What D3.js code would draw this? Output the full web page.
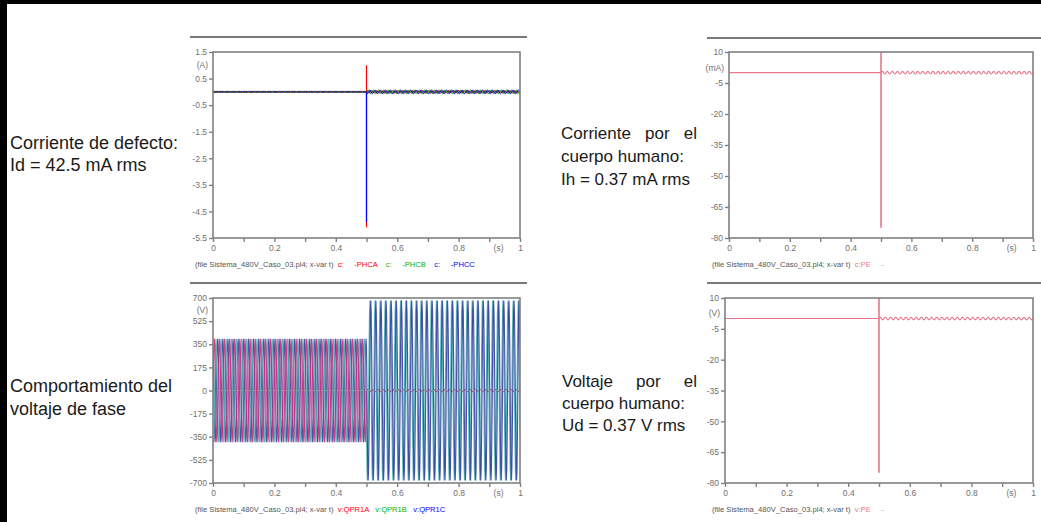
<!DOCTYPE html>
<html>
<head>
<meta charset="utf-8">
<script src="https://cdn.jsdelivr.net/npm/d3@7"></script>
<style>
body { margin: 0; background: #fff; }
svg { display: block; }
</style>
</head>
<body>
<div id="chart-area"></div>
<script>
var W = 1041, H = 522

// time axis (s)
var xTicks = [0, 0.1, 0.2, 0.3, 0.4, 0.5, 0.6, 0.7, 0.8, 0.9, 1]
var xLabels = [0, 0.2, 0.4, 0.6, 0.8, 1]
var faultTime = 0.5
var freq = 60

// one cycle of the waveform, read as 12 samples (30 deg apart)
var cycleShape = [0, 0.5, 0.87, 1, 0.87, 0.5, 0, -0.5, -0.87, -1, -0.87, -0.5]

var fileLabel = "(file Sistema_480V_Caso_03.pl4; x-var t)"
var phaseColors = ["#ff0000", "#00b400", "#0000ff"]
var phaseLineColors = ["#c8287e", "#48b4b0", "#34409e"]

// fault current, A
var iNames = ["-PHCA", "-PHCB", "-PHCC"]
var iTicks = [1.5, 0.5, -0.5, -1.5, -2.5, -3.5, -4.5, -5.5]
var iPreAmp = [0.02, 0.02, 0.02]
var iPostAmp = [0.05, 0.07, 0.07]
var iPrePhase = [0, -120, 120]
var iPostPhase = [90, -30, 210]
var iSpikeTop = [1.0, 0, 0]
var iSpikeBottom = [-5.1, 0, -4.9]

// body current, mA
var ihTicks = [10, -5, -20, -35, -50, -65, -80]
var ihPreAmp = [0]
var ihPostAmp = [0.6]
var ihSpike = [12, -75]

// phase voltages, V
var vNames = ["v:QPR1A", "v:QPR1B", "v:QPR1C"]
var vTicks = [700, 525, 350, 175, 0, -175, -350, -525, -700]
var vPreAmp = [392, 392, 392]
var vPostAmp = [6, 680, 680]
var vPrePhase = [0, -120, 120]
var vPostPhase = [0, -150, 150]

// body voltage, V
var udTicks = [10, -5, -20, -35, -50, -65, -80]
var udPreAmp = [0]
var udPostAmp = [0.6]
var udSpike = [12, -75]

var svg = d3.select("#chart-area").append("svg")
    .attr("width", W)
    .attr("height", H)

svg.append("rect").attr("width", W).attr("height", H).attr("fill", "#fff")

var blur = svg.append("defs").append("filter").attr("id", "soft")
    .attr("x", "-5%").attr("y", "-5%").attr("width", "110%").attr("height", "110%")
blur.append("feGaussianBlur").attr("stdDeviation", 0.5)

// page frame
svg.append("rect").attr("x", 0).attr("y", 0).attr("width", W).attr("height", 4).attr("fill", "#000")
svg.append("rect").attr("x", 0).attr("y", 0).attr("width", 7).attr("height", H).attr("fill", "#000")

function wave(t0, t1, amp, phaseDeg) {
    var n = cycleShape.length
    var step = 1 / (freq * n)
    var off = Math.round(phaseDeg / (360 / n))
    var count = Math.round((t1 - t0) / step)
    var pts = []
    for (var k = 0; k <= count; k++) {
        var idx = (((k + off) % n) + n) % n
        pts.push([t0 + k * step, amp * cycleShape[idx]])
    }
    return pts
}

var font = "Liberation Sans, Arial, sans-serif"
var clipId = 0
function panel(cfg) {
    var g = svg.append("g")
    var x = d3.scaleLinear().domain([0, 1]).range([cfg.left, cfg.right])
    var y = d3.scaleLinear().domain(cfg.yDomain).range([cfg.bottom, cfg.top])

    // separator line above the plot
    g.append("line")
        .attr("x1", cfg.sepX1).attr("x2", cfg.sepX2)
        .attr("y1", cfg.sepY).attr("y2", cfg.sepY)
        .attr("stroke", "#7a7a7a").attr("stroke-width", 2)

    var id = "clip" + (clipId++)
    g.append("clipPath").attr("id", id).append("rect")
        .attr("x", cfg.left).attr("y", cfg.top)
        .attr("width", cfg.right - cfg.left).attr("height", cfg.bottom - cfg.top)
    var plot = g.append("g").attr("clip-path", "url(#" + id + ")").append("g")
    if (cfg.soft) plot.attr("filter", "url(#soft)")

    var line = d3.line().x(function(d) { return x(d[0]) }).y(function(d) { return y(d[1]) })
    var order = cfg.series.slice()
    if (cfg.reverse) order.reverse()

    order.forEach(function(s) {
        plot.append("path")
            .attr("d", line(wave(0, faultTime, s.preAmp, s.prePhase)))
            .attr("fill", "none").attr("stroke", s.color).attr("stroke-width", s.width)
            .attr("stroke-opacity", s.opacity || 1)
    })
    cfg.series.forEach(function(s) {
        plot.append("path")
            .attr("d", line(wave(faultTime, 1, s.postAmp, s.postPhase)))
            .attr("fill", "none").attr("stroke", s.color).attr("stroke-width", s.width)
            .attr("stroke-opacity", s.opacity || 1)
        if (s.spike) {
            plot.append("line")
                .attr("x1", x(faultTime)).attr("x2", x(faultTime))
                .attr("y1", y(s.spike[0])).attr("y2", y(s.spike[1]))
                .attr("stroke", s.color).attr("stroke-width", s.spikeWidth || 1.2)
        }
    })
    if (cfg.zeroLine) {
        plot.append("line")
            .attr("x1", x(0)).attr("x2", x(1))
            .attr("y1", y(0)).attr("y2", y(0))
            .attr("stroke", cfg.zeroColor).attr("stroke-width", cfg.zeroWidth)
            .attr("stroke-dasharray", cfg.zeroDash)
    }

    // frame
    g.append("rect")
        .attr("x", cfg.left).attr("y", cfg.top)
        .attr("width", cfg.right - cfg.left).attr("height", cfg.bottom - cfg.top)
        .attr("fill", "none").attr("stroke", "#808080").attr("stroke-width", 1.6)

    // y axis
    var yAxis = g.append("g")
        .attr("transform", "translate(" + cfg.left + ",0)")
        .call(d3.axisLeft(y).tickValues(cfg.yTicks).tickSize(4).tickPadding(2)
            .tickFormat(function(d) { return String(d) }))
    // x axis
    var xAxis = g.append("g")
        .attr("transform", "translate(0," + cfg.bottom + ")")
        .call(d3.axisBottom(x).tickValues(xTicks).tickSize(4).tickPadding(3)
            .tickFormat(function(d) { return xLabels.indexOf(d) >= 0 ? String(d) : "" }))
    ;[yAxis, xAxis].forEach(function(a) {
        a.select(".domain").remove()
        a.selectAll("line").attr("stroke", "#808080").attr("stroke-width", 1.4)
        a.selectAll("text").attr("fill", "#707070")
            .style("font-family", font).style("font-size", "8.5px")
    })
    g.append("text")
        .attr("x", x(0.93)).attr("y", cfg.bottom + 13)
        .attr("text-anchor", "middle").attr("fill", "#707070")
        .style("font-family", font).style("font-size", "8.5px")
        .text("(s)")
    g.append("text")
        .attr("x", cfg.left - 5).attr("y", (y(cfg.yTicks[0]) + y(cfg.yTicks[1])) / 2 + 3)
        .attr("text-anchor", "end").attr("fill", "#707070")
        .style("font-family", font).style("font-size", "8.5px")
        .text(cfg.unit)

    // legend
    var leg = g.append("text")
        .attr("x", cfg.sepX1 + 5).attr("y", cfg.bottom + 29)
        .style("font-family", font).style("font-size", "7.6px")
        .style("white-space", "pre")
    leg.append("tspan").attr("fill", "#555").text(fileLabel)
    cfg.legend.forEach(function(item) {
        leg.append("tspan").attr("fill", item[1]).text(item[0])
    })
}

var tlSeries = iNames.map(function(n, i) {
    return { color: phaseColors[i], width: 1, preAmp: iPreAmp[i], postAmp: iPostAmp[i],
             prePhase: iPrePhase[i], postPhase: iPostPhase[i], spike: [iSpikeTop[i], iSpikeBottom[i]] }
})
panel({
    left: 213, right: 520, top: 52, bottom: 238,
    sepX1: 190, sepX2: 527, sepY: 37,
    yDomain: [-5.5, 1.5], yTicks: iTicks, unit: "(A)",
    zeroLine: true, zeroColor: "#333", zeroWidth: 1.3, zeroDash: "5,1",
    series: tlSeries,
    legend: [["  c:     ", phaseColors[0]], ["-PHCA  ", phaseColors[0]], ["  c:     ", phaseColors[1]],
             ["-PHCB  ", phaseColors[1]], ["  c:     ", phaseColors[2]], ["-PHCC", phaseColors[2]]]
})

panel({
    left: 729, right: 1033, top: 52, bottom: 238,
    sepX1: 707, sepX2: 1041, sepY: 38,
    yDomain: [-80, 10], yTicks: ihTicks, unit: "(mA)",
    series: [{ color: "#e8788a", width: 1.1, preAmp: ihPreAmp[0], postAmp: ihPostAmp[0],
               prePhase: 0, postPhase: 0, spike: ihSpike, spikeWidth: 1.6 }],
    legend: [["  c:PE     ", "#e8788a"], ["-", "#e8788a"]]
})

var blSeries = vNames.map(function(n, i) {
    return { color: phaseLineColors[i], width: 1.1, opacity: 0.9, preAmp: vPreAmp[i], postAmp: vPostAmp[i],
             prePhase: vPrePhase[i], postPhase: vPostPhase[i] }
})
panel({
    left: 213, right: 520, top: 298, bottom: 483,
    sepX1: 190, sepX2: 527, sepY: 283,
    yDomain: [-700, 700], yTicks: vTicks, unit: "(V)", soft: true, reverse: true,
    zeroLine: true, zeroColor: "#999", zeroWidth: 1, zeroDash: "2,2",
    series: blSeries,
    legend: [["  " + vNames[0] + "   ", phaseColors[0]], [vNames[1] + "   ", phaseColors[1]], [vNames[2], phaseColors[2]]]
})

panel({
    left: 725, right: 1033, top: 298, bottom: 483,
    sepX1: 707, sepX2: 1041, sepY: 283,
    yDomain: [-80, 10], yTicks: udTicks, unit: "(V)",
    series: [{ color: "#e8788a", width: 1.1, preAmp: udPreAmp[0], postAmp: udPostAmp[0],
               prePhase: 0, postPhase: 0, spike: udSpike, spikeWidth: 1.6 }],
    legend: [["  v:PE     ", "#e8788a"], ["-", "#e8788a"]]
})

// annotations
function plainLines(lines, x, y0, dy, size) {
    lines.forEach(function(s, i) {
        svg.append("text").attr("x", x).attr("y", y0 + i * dy)
            .attr("fill", "#1a1a1a").style("font-family", font).style("font-size", size + "px")
            .text(s)
    })
}
// line justified between x and x2
function justifiedLine(words, x, x2, y, size) {
    var nodes = words.map(function(w) {
        return svg.append("text").attr("y", y).attr("fill", "#1a1a1a")
            .style("font-family", font).style("font-size", size + "px").text(w)
    })
    var widths = nodes.map(function(n) { return n.node().getComputedTextLength() })
    var gap = (x2 - x - d3.sum(widths)) / (words.length - 1)
    var cx = x
    nodes.forEach(function(n, i) { n.attr("x", cx); cx += widths[i] + gap })
}

plainLines(["Corriente de defecto:", "Id = 42.5 mA rms"], 10, 149, 22, 18)
plainLines(["Comportamiento del", "voltaje de fase"], 10, 392, 23, 18)

justifiedLine(["Corriente", "por", "el"], 561, 697, 139, 17)
plainLines(["cuerpo humano:", "Ih = 0.37 mA rms"], 561, 162, 23, 17)

justifiedLine(["Voltaje", "por", "el"], 562, 697, 387, 17)
plainLines(["cuerpo humano:", "Ud = 0.37 V rms"], 562, 409, 22, 17)
</script>
</body>
</html>
